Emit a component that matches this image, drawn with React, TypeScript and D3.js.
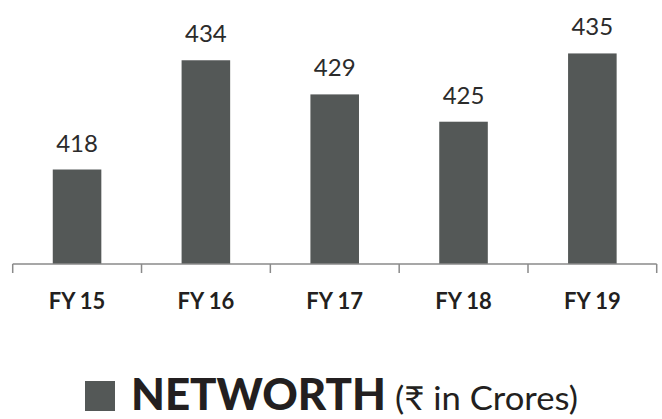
import React from "react";
import * as d3 from "d3";

const categories = ["FY 15", "FY 16", "FY 17", "FY 18", "FY 19"];
const values = [418, 434, 429, 425, 435];
const legendTitle = "NETWORTH";
const legendUnit = "(₹ in Crores)";

const W = 662;
const H = 419;
const BAR = "#545857";
const TEXT = "#231f20";

export default function App() {
  const x = d3
    .scaleBand<string>()
    .domain(categories)
    .range([12.7, 656.7])
    .paddingInner(0.623)
    .paddingOuter(0.311);
  const y = d3.scaleLinear().domain([404.16, 440]).range([264, 19.3]);
  const baseY = y(404.16);
  const bounds = categories.map((_, i) => 12.7 + i * x.step());
  bounds.push(656.7);

  return (
    <svg
      width={W}
      height={H}
      viewBox={`0 0 ${W} ${H}`}
      style={{ position: "absolute", left: 0, top: 0, background: "#fff" }}
    >
      {categories.map((c, i) => (
        <g key={c}>
          <rect
            x={x(c)}
            y={y(values[i])}
            width={x.bandwidth()}
            height={baseY - y(values[i])}
            fill={BAR}
          />
          <text
            x={(x(c) as number) + x.bandwidth() / 2}
            y={y(values[i]) - 18}
            textAnchor="middle"
            fontFamily="Lato, 'Open Sans', sans-serif"
            fontWeight={400}
            fontSize={24}
            fill="#2b2b2b"
          >
            {values[i]}
          </text>
          <text
            x={(x(c) as number) + x.bandwidth() / 2}
            y={309}
            textAnchor="middle"
            fontFamily="Lato, 'Open Sans', sans-serif"
            fontWeight={700}
            fontSize={22}
            fill={TEXT}
          >
            {c}
          </text>
        </g>
      ))}
      <line x1={12.7} x2={656.7} y1={baseY} y2={baseY} stroke="#8a8a8a" strokeWidth={1.5} />
      {bounds.map((b, i) => (
        <line key={i} x1={b} x2={b} y1={baseY} y2={273} stroke="#8a8a8a" strokeWidth={1.5} />
      ))}
      <rect x={85} y={381} width={30} height={30} fill={BAR} />
      <text
        x={131}
        y={410}
        fontFamily="Lato, 'Open Sans', sans-serif"
        fontWeight={900}
        fontSize={44}
        fill={TEXT}
        textLength={255}
        lengthAdjust="spacingAndGlyphs"
      >
        {legendTitle}
      </text>
      <text
        x={395}
        y={410}
        fontFamily="Lato, 'Noto Sans', sans-serif"
        fontWeight={400}
        fontSize={33}
        fill={TEXT}
        textLength={183}
        lengthAdjust="spacingAndGlyphs"
      >
        {legendUnit}
      </text>
    </svg>
  );
}
